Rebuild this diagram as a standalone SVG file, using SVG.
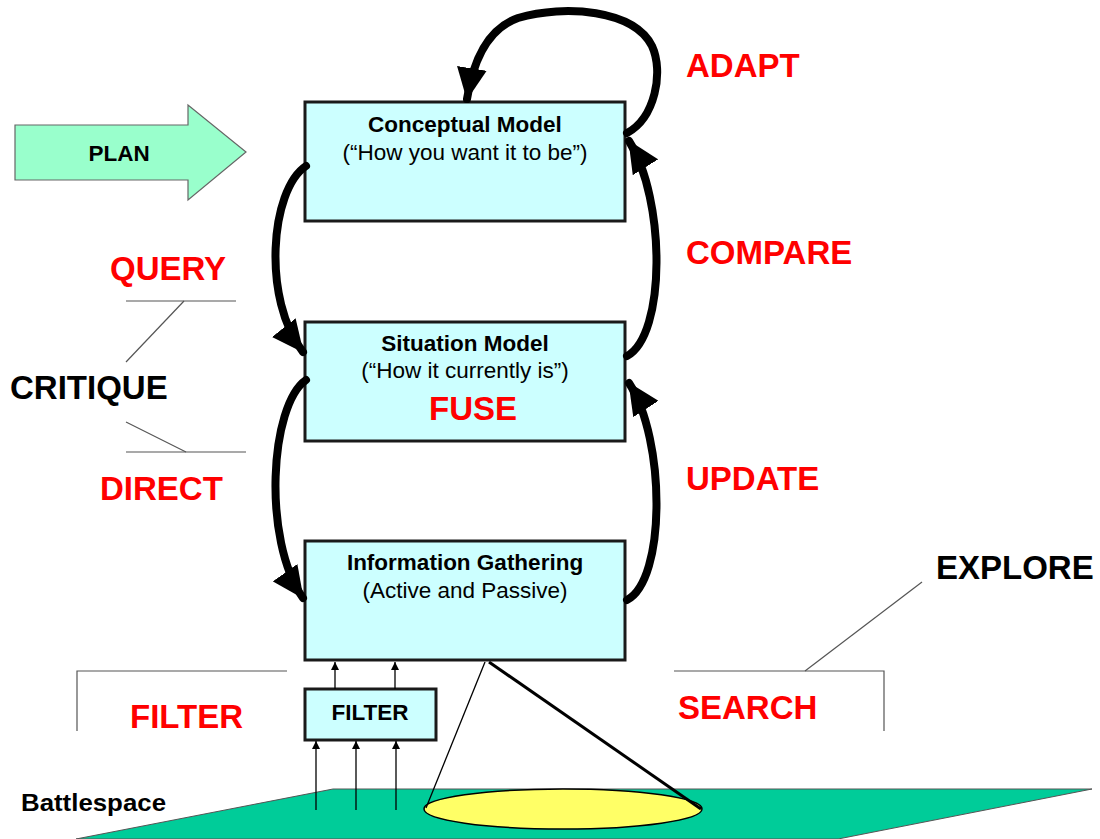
<svg xmlns="http://www.w3.org/2000/svg" width="1100" height="839" viewBox="0 0 1100 839">
  <style>
    .box { fill: #ccffff; stroke: #1a1a1a; stroke-width: 3; }
    .title { font-family: "Liberation Sans", Arial, sans-serif; font-weight: bold; font-size: 22.5px; fill: #000; text-anchor: middle; }
    .sub { font-family: "Liberation Sans", Arial, sans-serif; font-size: 22.5px; fill: #000; text-anchor: middle; }
    .verb { font-family: "Liberation Sans", Arial, sans-serif; font-weight: bold; font-size: 33px; fill: #ff0000; }
    .verbk { font-family: "Liberation Sans", Arial, sans-serif; font-weight: bold; font-size: 33px; fill: #000; }
    .flow { fill: none; stroke: #000; stroke-width: 8; stroke-linecap: round; }
    .thin { fill: none; stroke: #555; stroke-width: 1.2; }
    .feed { fill: none; stroke: #000; stroke-width: 1.3; }
  </style>
  <defs>
    <marker id="bigHead" viewBox="0 0 32 30" refX="31" refY="15" markerWidth="32" markerHeight="30" markerUnits="userSpaceOnUse" orient="auto">
      <path d="M0,0 L32,15 L0,30 Z" fill="#000"/>
    </marker>
    <marker id="smallHead" viewBox="0 0 10 10" refX="10" refY="5" markerWidth="8" markerHeight="8" markerUnits="userSpaceOnUse" orient="auto">
      <path d="M0,0 L10,5 L0,10 Z" fill="#000"/>
    </marker>
  </defs>

  <!-- ground plane with sensor footprint -->
  <g id="battlespace">
    <polygon points="333,789 1092,789 838,839 76,839" fill="#00cc99" stroke="#555" stroke-width="1"/>
    <ellipse cx="563" cy="809" rx="139" ry="20" fill="#ffff66" stroke="#000" stroke-width="1.5"/>
    <text x="21" y="811" textLength="145" lengthAdjust="spacingAndGlyphs" style="font-family:'Liberation Sans',Arial,sans-serif;font-weight:bold;font-size:24px" fill="#000">Battlespace</text>
  </g>

  <!-- sensing cone from the gathering box -->
  <g id="cone">
    <line x1="485" y1="662" x2="426" y2="808" stroke="#000" stroke-width="1.3"/>
    <line x1="489" y1="662" x2="701" y2="809" stroke="#000" stroke-width="3"/>
  </g>

  <g id="plan">
    <polygon points="15,125 188,125 188,105 246,152 188,200 188,180 15,180" fill="#99ffcc" stroke="#666" stroke-width="1.2"/>
    <text x="119" y="161" class="title">PLAN</text>
  </g>

  <g id="conceptual-model">
    <rect x="305" y="102" width="320" height="119" class="box"/>
    <text x="465" y="132" class="title">Conceptual Model</text>
    <text x="465" y="160" class="sub">(“How you want it to be”)</text>
  </g>

  <g id="situation-model">
    <rect x="305" y="322" width="320" height="119" class="box"/>
    <text x="465" y="351" class="title">Situation Model</text>
    <text x="465" y="378" class="sub">(“How it currently is”)</text>
    <text x="473" y="420" class="verb" text-anchor="middle">FUSE</text>
  </g>

  <g id="information-gathering">
    <rect x="305" y="541" width="320" height="119" class="box"/>
    <text x="465" y="570" class="title">Information Gathering</text>
    <text x="465" y="598" class="sub">(Active and Passive)</text>
  </g>

  <g id="filter">
    <rect x="305" y="689" width="131" height="51" class="box"/>
    <text x="370" y="720" class="title">FILTER</text>
  </g>

  <!-- loop connectors -->
  <g id="connectors">
    <path class="flow" d="M627,133 C655,118 664,72 652,46 C634,10 565,4 518,18 C490,28 474,55 467,99" marker-end="url(#bigHead)"/>
    <path class="flow" d="M306,166 C270,190 262,300 303,352" marker-end="url(#bigHead)"/>
    <path class="flow" d="M306,380 C270,405 262,540 303,598" marker-end="url(#bigHead)"/>
    <path class="flow" d="M627,600 C666,580 666,440 629,383" marker-end="url(#bigHead)"/>
    <path class="flow" d="M627,356 C666,335 666,200 629,141" marker-end="url(#bigHead)"/>
    <line class="feed" x1="335" y1="689" x2="335" y2="662" marker-end="url(#smallHead)"/>
    <line class="feed" x1="395" y1="689" x2="395" y2="662" marker-end="url(#smallHead)"/>
    <line class="feed" x1="316" y1="810" x2="316" y2="741" marker-end="url(#smallHead)"/>
    <line class="feed" x1="356" y1="810" x2="356" y2="741" marker-end="url(#smallHead)"/>
    <line class="feed" x1="396" y1="810" x2="396" y2="741" marker-end="url(#smallHead)"/>
  </g>

  <!-- activity labels -->
  <g id="labels">
    <text x="686" y="77" class="verb">ADAPT</text>
    <text x="686" y="264" class="verb">COMPARE</text>
    <text x="686" y="490" class="verb">UPDATE</text>
    <text x="110" y="280" class="verb">QUERY</text>
    <text x="10" y="399" class="verbk">CRITIQUE</text>
    <text x="100" y="500" class="verb">DIRECT</text>
    <text x="936" y="579" class="verbk">EXPLORE</text>
    <text x="678" y="719" class="verb">SEARCH</text>
    <text x="130" y="728" class="verb">FILTER</text>
  </g>

  <!-- bracket lines -->
  <g id="brackets">
    <polyline class="thin" points="126,301 236,301"/>
    <line class="thin" x1="184" y1="301" x2="126" y2="362"/>
    <polyline class="thin" points="126,452 246,452"/>
    <line class="thin" x1="126" y1="422" x2="186" y2="452"/>
    <polyline class="thin" points="77,731 77,671 287,671"/>
    <polyline class="thin" points="674,671 884,671 884,731"/>
    <line class="thin" x1="805" y1="671" x2="922" y2="582"/>
  </g>
</svg>
